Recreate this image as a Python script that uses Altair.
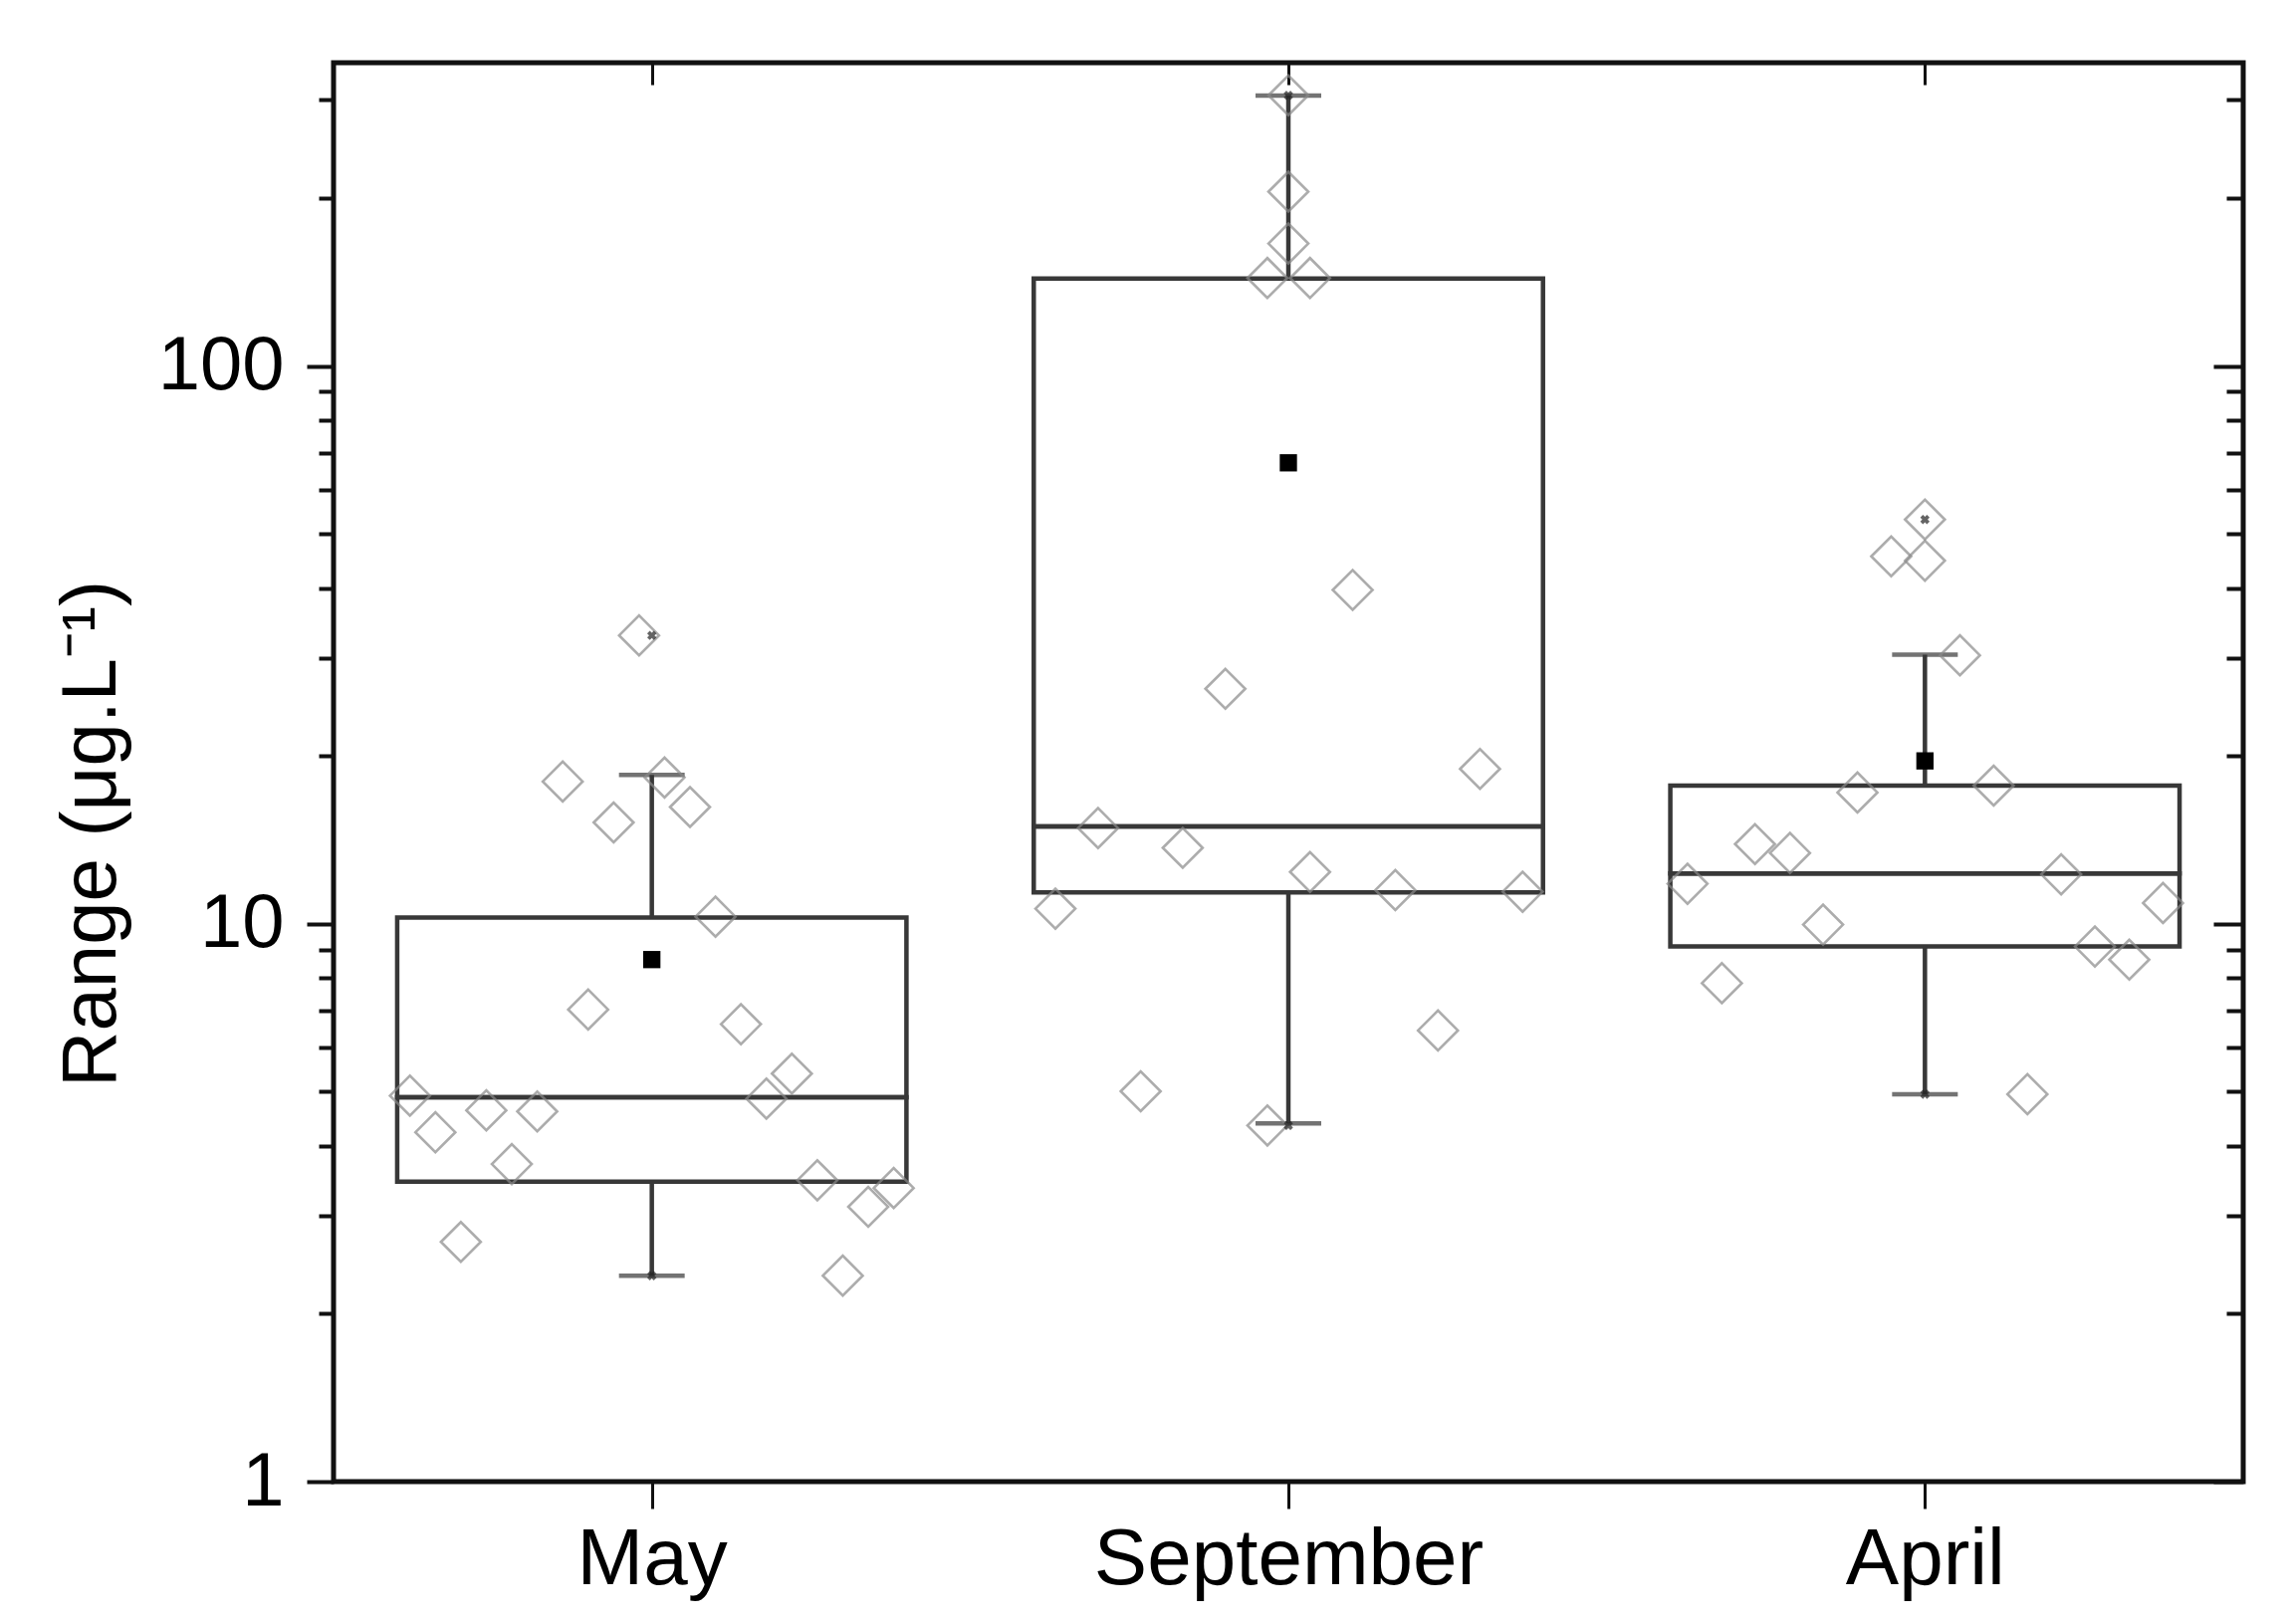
import altair as alt
import pandas as pd

# ---------------- data ----------------
months = ["May", "September", "April"]

# individual measurements (µg/L), listed left-to-right as drawn
may_values = [4.92, 4.23, 2.69, 4.63, 3.71, 4.61, 18.0, 7.02, 15.2, 32.9,
              18.3, 16.2, 10.3, 6.61, 4.86, 5.39, 3.47, 2.34, 3.11, 3.36]
sep_values = [10.65, 14.85, 5.01, 13.69, 26.4, 143.9, 4.35, 305.9, 205.5, 165.9,
              143.9, 12.39, 39.7, 11.5, 6.44, 18.96, 11.42]
apr_values = [11.8, 7.83, 13.9, 13.4, 9.97, 17.2, 45.6, 53.1, 44.8, 30.3,
              17.7, 4.95, 12.27, 9.11, 8.63, 10.9]

# horizontal spread of the overlaid points (fraction of category spacing)
may_spread = [-0.38, -0.34, -0.30, -0.26, -0.22, -0.18, -0.14, -0.10, -0.06, -0.02,
              0.02, 0.06, 0.10, 0.14, 0.18, 0.22, 0.26, 0.30, 0.34, 0.38]
sep_spread = [-0.366, -0.299, -0.232, -0.166, -0.099, -0.033, -0.033, 0.0, 0.0, 0.0,
              0.034, 0.034, 0.101, 0.168, 0.235, 0.301, 0.368]
apr_spread = [-0.373, -0.319, -0.267, -0.212, -0.160, -0.106, -0.053, 0.0, 0.0, 0.055,
              0.108, 0.161, 0.214, 0.267, 0.321, 0.374]

# box statistics
q1 = [3.45, 11.39, 9.11]
median = [4.89, 14.95, 12.31]
q3 = [10.27, 143.6, 17.69]
whisker_low = [2.34, 4.39, 4.95]
whisker_high = [18.5, 305.5, 30.4]
mean = [8.63, 67.1, 19.6]
minimum = [2.34, 4.35, 4.95]
maximum = [32.9, 305.9, 53.1]

major_ticks = [1, 10, 100]
minor_ticks = [2, 3, 4, 5, 6, 7, 8, 9, 20, 30, 40, 50, 60, 70, 80, 90, 200, 300]

# ---------------- tables ----------------
rows = []
for i, (vals, spr) in enumerate([(may_values, may_spread),
                                 (sep_values, sep_spread),
                                 (apr_values, apr_spread)]):
    for v, s in zip(vals, spr):
        rows.append({"month": months[i], "pos": i + 1, "spread": s, "value": v})
points = pd.DataFrame(rows)

stats = pd.DataFrame({
    "month": months, "pos": [1, 2, 3], "q1": q1, "median": median, "q3": q3,
    "lo": whisker_low, "hi": whisker_high, "mean": mean,
})
extremes = pd.DataFrame({
    "month": months * 2,
    "pos": [1, 2, 3] * 2,
    "value": minimum + maximum,
})

# ---------------- scales & axes ----------------
FONT = "Liberation Sans"
W, H = 1918, 1425
HALF = 0.4  # box half width in category units
xscale = alt.Scale(domain=[0.5, 3.5], nice=False, zero=False)
yscale = alt.Scale(type="log", domain=[1, 350], nice=False)
label_expr = "['May', 'September', 'April'][round(datum.value) - 1]"

ax_bottom = alt.Axis(orient="bottom", title=None, domain=False, grid=False,
                     values=[1, 2, 3], labelExpr=label_expr, labelLimit=0,
                     tickSize=27, tickWidth=3, tickColor="#111",
                     labelFont=FONT, labelFontSize=80, labelColor="black",
                     labelAngle=0, labelPadding=12, labelFlush=False, labelOverlap=False)
ax_top = alt.Axis(orient="top", title=None, domain=False, grid=False,
                  values=[1, 2, 3], labels=False, tickSize={"expr": "-22"},
                  tickWidth=3, tickColor="#111")
ax_left_major = alt.Axis(orient="left", values=major_ticks, domain=False, grid=False,
                         tickSize=27, tickWidth=4, tickColor="#111",
                         labelFont=FONT, labelFontSize=76, labelColor="black",
                         labelPadding=23, labelExpr="format(datum.value, 'd')",
                         title="Range (μg.L⁻¹)", titleFont=FONT, titleFontSize=78,
                         titleFontWeight="normal", titleColor="black",
                         titleAngle=270, titleAlign="center",
                         titleBaseline="alphabetic", titleX=-220, titleY=774)
ax_left_minor = alt.Axis(orient="left", values=minor_ticks, domain=False, grid=False,
                         labels=False, tickSize=15, tickWidth=4, tickColor="#111",
                         title=None)
ax_right_major = alt.Axis(orient="right", values=major_ticks, domain=False, grid=False,
                          labels=False, tickSize={"expr": "-30"}, tickWidth=4,
                          tickColor="#111", title=None)
ax_right_minor = alt.Axis(orient="right", values=minor_ticks, domain=False, grid=False,
                          labels=False, tickSize={"expr": "-17"}, tickWidth=4,
                          tickColor="#111", title=None)

BOX = "#383838"

box_base = alt.Chart(stats).transform_calculate(
    left=f"datum.pos - {HALF}", right=f"datum.pos + {HALF}"
)
box_low = box_base.mark_rect(
    fillOpacity=0, stroke=BOX, strokeWidth=4.5
).encode(
    x=alt.X("left:Q", scale=xscale, axis=ax_bottom),
    x2="right:Q",
    y=alt.Y("q1:Q", scale=yscale, axis=ax_left_major),
    y2="median:Q",
)
box_high = box_base.mark_rect(
    fillOpacity=0, stroke=BOX, strokeWidth=4.5
).encode(
    x=alt.X("left:Q", scale=xscale, axis=ax_top),
    x2="right:Q",
    y=alt.Y("median:Q", scale=yscale, axis=ax_left_minor),
    y2="q3:Q",
)
whisk_low = alt.Chart(stats).mark_rule(color=BOX, strokeWidth=4.5).encode(
    x=alt.X("pos:Q", scale=xscale, axis=None),
    y=alt.Y("lo:Q", scale=yscale, axis=ax_right_major),
    y2="q1:Q",
)
whisk_high = alt.Chart(stats).mark_rule(color=BOX, strokeWidth=4.5).encode(
    x=alt.X("pos:Q", scale=xscale, axis=None),
    y=alt.Y("q3:Q", scale=yscale, axis=ax_right_minor),
    y2="hi:Q",
)
cap_low = alt.Chart(stats).mark_tick(
    orient="horizontal", size=66, thickness=4.5, color=BOX
).encode(
    x=alt.X("pos:Q", scale=xscale, axis=None),
    y=alt.Y("lo:Q", scale=yscale, axis=None),
)
cap_high = alt.Chart(stats).mark_tick(
    orient="horizontal", size=66, thickness=4.5, color=BOX
).encode(
    x=alt.X("pos:Q", scale=xscale, axis=None),
    y=alt.Y("hi:Q", scale=yscale, axis=None),
)
dots = alt.Chart(points).transform_calculate(
    xpos="datum.pos + datum.spread"
).mark_point(
    shape="diamond", filled=False, size=1600, stroke="#8a8a8a", strokeWidth=2.6
).encode(
    x=alt.X("xpos:Q", scale=xscale, axis=None),
    y=alt.Y("value:Q", scale=yscale, axis=None),
)
ext = alt.Chart(extremes).mark_point(
    shape="cross", filled=True, size=90, angle=45, color="#222"
).encode(
    x=alt.X("pos:Q", scale=xscale, axis=None),
    y=alt.Y("value:Q", scale=yscale, axis=None),
)
means = alt.Chart(stats).mark_point(
    shape="square", filled=True, size=300, color="black", opacity=1
).encode(
    x=alt.X("pos:Q", scale=xscale, axis=None),
    y=alt.Y("mean:Q", scale=yscale, axis=None),
)

chart = alt.layer(
    box_low, box_high, whisk_low, whisk_high, cap_low, cap_high, dots, ext, means
).resolve_axis(
    x="independent", y="independent"
).properties(
    width=W, height=H, background="white",
    padding={"left": 327, "top": 55, "right": 40, "bottom": 130},
    autosize=alt.AutoSizeParams(type="none"),
).configure_view(
    stroke="#111", strokeWidth=5
)

chart.save("out.html", embed_options={"renderer": "svg", "actions": False})
